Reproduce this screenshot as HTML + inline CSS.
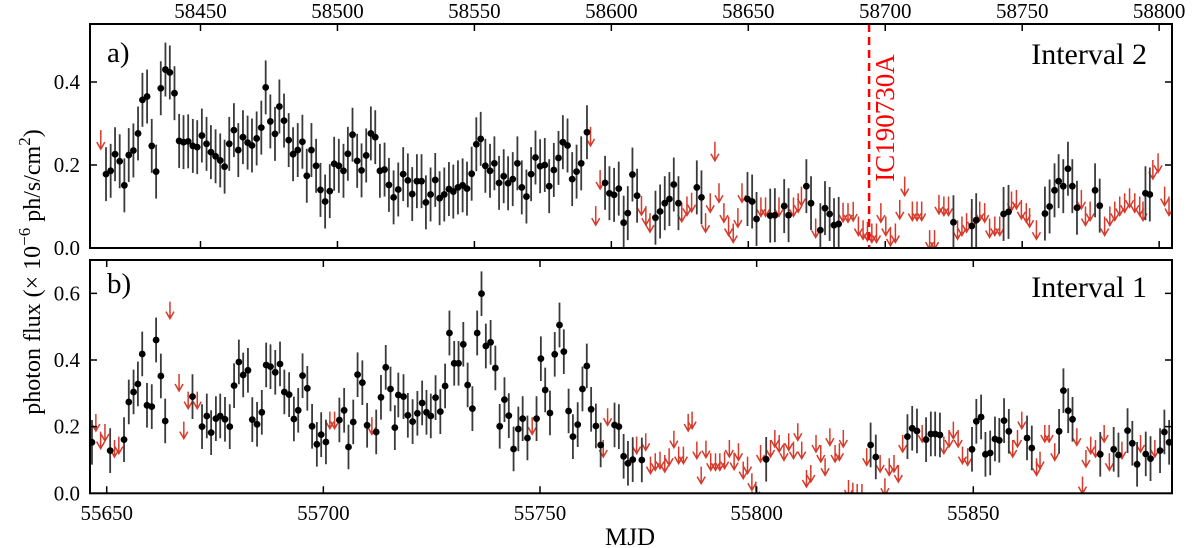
<!DOCTYPE html>
<html><head><meta charset="utf-8"><style>
html,body{margin:0;padding:0;background:#fff;}
svg{display:block;font-family:"Liberation Serif",serif;}
</style></head><body>
<svg id="chart" width="1200" height="548" viewBox="0 0 1200 548">
<defs>
<clipPath id="clipTop"><rect x="90" y="24" width="1082" height="224"/></clipPath>
<clipPath id="clipBot"><rect x="90" y="260" width="1082" height="233.3"/></clipPath>
</defs>
<g id="gTop" clip-path="url(#clipTop)"></g>
<g id="gBot" clip-path="url(#clipBot)"></g>
<g id="axes"></g>
<text x="107" y="62" font-size="29">a)</text>
<text x="1147" y="64" font-size="30" text-anchor="end">Interval 2</text>
<text x="107" y="293" font-size="29">b)</text>
<text x="1147" y="297" font-size="30" text-anchor="end">Interval 1</text>
<text x="630" y="545" font-size="25" text-anchor="middle">MJD</text>
<text transform="translate(40,272) rotate(-90)" font-size="24" text-anchor="middle">photon flux (× 10<tspan dy="-10" font-size="17">−6</tspan><tspan dy="10"> ph/s/cm</tspan><tspan dy="-10" font-size="17">2</tspan><tspan dy="10">)</tspan></text>
</svg>
<script>
// ---- Panel a (Interval 2) data ----
const topDays = [58415.5,58417.2,58418.8,58420.5,58422.2,58423.8,58425.5,58427.2,58428.8,58430.5,58432.2,58433.8,58435.5,58437.2,58438.8,58440.5,58442.2,58443.8,58445.5,58447.2,58448.8,58450.5,58452.2,58453.8,58455.5,58457.2,58458.8,58460.5,58462.2,58463.8,58465.5,58467.2,58468.8,58470.5,58472.2,58473.8,58475.5,58477.2,58478.8,58480.5,58482.2,58483.8,58485.5,58487.2,58488.8,58490.5,58492.2,58493.8,58495.5,58497.2,58498.8,58500.5,58502.2,58503.8,58505.5,58507.2,58508.8,58510.5,58512.2,58513.8,58515.5,58517.2,58518.8,58520.5,58522.2,
58524.0,58525.7,58527.3,58529.0,58530.7,58532.3,58534.0,58535.7,58537.3,58539.0,58540.7,58542.3,58544.0,58545.7,58547.3,58549.0,58550.7,58552.3,58554.0,58555.7,58557.3,58559.0,58560.7,58562.3,58564.0,58565.7,58567.3,58569.0,58570.7,58572.3,58574.0,58575.7,58577.3,58579.0,58580.7,58582.3,58584.0,58585.7,58587.3,58589.0,58591.1,
58597.7,58599.3,58601.0,58602.7,58604.5,58606.0,58607.7,58609.4,58616.1,58617.8,58619.5,58621.2,58622.8,58624.5,58631.2,58632.9,58649.7,58651.4,58653.0,58658.0,58659.7,58663.1,58664.7,
58671.2,58672.9,58676.3,58678.0,58679.7,58681.3,58683.0,58724.9,58731.6,58733.2,58743.2,58745.0,58758.3,58760.0,58761.8,58763.3,58765.0,58766.7,58768.3,58770.0,58776.6,58778.3,58795.0,58796.6];
const topFlux = [0.178,0.186,0.226,0.209,0.151,0.224,0.235,0.276,0.357,0.365,0.246,0.184,0.385,0.430,0.423,0.373,0.258,0.255,0.257,0.246,0.243,0.271,0.251,0.231,0.221,0.211,0.196,0.251,0.284,0.236,0.267,0.254,0.247,0.264,0.290,0.387,0.305,0.275,0.341,0.307,0.260,0.226,0.236,0.256,0.174,0.236,0.198,0.140,0.112,0.137,0.203,0.198,0.186,0.227,0.273,0.210,0.187,0.223,0.276,0.267,0.186,0.189,0.152,0.122,0.141,
0.178,0.163,0.130,0.161,0.161,0.110,0.129,0.164,0.120,0.129,0.142,0.136,0.146,0.151,0.143,0.179,0.250,0.263,0.198,0.186,0.204,0.157,0.173,0.156,0.166,0.204,0.146,0.124,0.178,0.218,0.197,0.200,0.149,0.188,0.217,0.255,0.247,0.166,0.184,0.204,0.279,
0.157,0.132,0.128,0.143,0.061,0.084,0.177,0.126,0.073,0.088,0.108,0.118,0.153,0.108,0.146,0.122,0.118,0.112,0.070,0.078,0.079,0.101,0.079,
0.149,0.108,0.043,0.096,0.082,0.055,0.058,0.062,0.053,0.067,0.082,0.087,0.083,0.100,0.139,0.161,0.149,0.191,0.149,0.097,0.139,0.102,0.132,0.129];
const topErr = 0.065;
const topULDays = [58413.6,58592.4,58594.3,58595.9,58611.0,58612.6,58614.1,58625.7,58627.6,58629.3,58634.4,58636.1,58637.8,58639.3,58641.1,58642.8,58644.5,58646.2,58647.7,58654.6,58656.3,58661.2,58666.5,58668.2,58669.4,58674.6,58684.6,58686.4,58688.3,58690.2,58691.9,58693.5,58695.1,58696.8,58698.4,58700.2,58701.9,58703.7,58705.3,58707.1,58709.9,58711.6,58713.3,58716.2,58718.0,58719.6,58721.4,58723.1,58726.4,58728.0,58729.7,58731.5,58734.5,58736.3,58738.1,58740.0,58741.8,58746.1,58747.9,58749.7,58751.5,58752.7,58755.2,58771.6,58773.1,58774.8,58780.1,58782.0,58783.8,58785.6,58787.4,58789.2,58791.1,58792.9,58794.1,58797.7,58799.6,58802.0,58803.6];
const topULVals = [0.284,0.292,0.101,0.188,0.125,0.101,0.084,0.109,0.124,0.133,0.084,0.132,0.256,0.156,0.108,0.076,0.059,0.096,0.156,0.122,0.122,0.122,0.122,0.132,0.148,0.071,0.109,0.108,0.111,0.076,0.067,0.063,0.059,0.059,0.108,0.076,0.051,0.059,0.116,0.172,0.112,0.112,0.112,0.043,0.043,0.128,0.124,0.124,0.067,0.076,0.084,0.092,0.112,0.108,0.071,0.076,0.076,0.136,0.140,0.116,0.108,0.096,0.067,0.140,0.100,0.112,0.076,0.100,0.112,0.124,0.132,0.144,0.132,0.124,0.112,0.212,0.228,0.148,0.124];
const topTicks = [58450,58500,58550,58600,58650,58700,58750,58800];
const topYTicks = [0.0,0.2,0.4];
const eventDay = 58694.1;
const eventName = "IC190730A";

// ---- Panel b (Interval 1) data ----
const botDays = [55646.6,55650.8,55654.0,55655.1,55656.2,55657.2,55658.2,55659.3,55660.4,55661.4,55662.5,55663.5,55669.8,55672.0,55673.1,55674.1,55675.2,55676.2,55677.3,55678.4,55679.4,55680.5,55681.5,55682.6,55683.6,55684.7,55685.8,55686.8,55687.8,55688.9,55690.0,55691.0,55692.1,55693.2,55694.2,55695.2,55696.3,55697.4,55698.5,55699.5,55700.6,55703.7,55704.8,55705.8,55706.9,55707.9,55709.0,55710.1,55712.2,55713.3,55714.4,55715.5,55716.5,55717.3,
55718.5,55719.5,55720.6,55721.7,55722.8,55723.8,55724.8,55725.9,55727.0,55728.1,55729.1,55730.2,55731.2,55732.3,55733.3,55734.4,55735.5,55736.5,55737.5,55738.6,55739.7,55740.7,55741.8,55742.8,55743.9,55745.0,55746.0,55747.1,55749.2,55750.2,55751.2,55752.3,55753.4,55754.5,55755.5,55756.6,55757.6,55758.7,55759.8,55760.8,55761.8,55762.9,55764.0,55767.2,55768.2,55769.3,55770.3,55771.4,55773.5,55802.2,
55826.3,55827.5,55834.8,55835.9,55837.0,55839.1,55840.2,55841.2,55842.3,55849.7,55850.7,55851.8,55852.8,55853.9,55855.0,55856.0,55857.1,55858.2,55862.4,55863.5,55869.8,55870.8,55871.9,55872.9,55879.3,55882.4,55883.5,55885.6,55886.7,55887.8,55889.8,55890.9,55893.1,55894.1,55895.2];
const botFlux = [0.153,0.128,0.161,0.274,0.304,0.328,0.418,0.264,0.260,0.460,0.352,0.217,0.290,0.200,0.232,0.182,0.224,0.232,0.222,0.200,0.323,0.394,0.355,0.369,0.221,0.207,0.243,0.385,0.380,0.363,0.388,0.304,0.296,0.223,0.249,0.353,0.315,0.201,0.147,0.176,0.154,0.220,0.249,0.139,0.214,0.356,0.332,0.204,0.184,0.288,0.378,0.313,0.197,0.295,
0.290,0.234,0.215,0.240,0.271,0.243,0.232,0.287,0.245,0.322,0.481,0.390,0.390,0.447,0.325,0.254,0.481,0.599,0.442,0.453,0.376,0.201,0.281,0.233,0.133,0.193,0.224,0.166,0.224,0.404,0.310,0.241,0.417,0.505,0.425,0.247,0.170,0.206,0.313,0.382,0.252,0.202,0.145,0.205,0.200,0.111,0.090,0.101,0.100,0.102,
0.145,0.109,0.170,0.195,0.187,0.161,0.178,0.178,0.175,0.132,0.216,0.229,0.117,0.121,0.163,0.159,0.218,0.186,0.166,0.136,0.186,0.308,0.248,0.222,0.117,0.132,0.115,0.188,0.150,0.087,0.118,0.104,0.128,0.184,0.153];
const botErr = 0.067;
const botULDays = [55647.5,55648.6,55649.6,55651.8,55652.8,55664.6,55666.7,55667.8,55668.8,55670.9,55701.5,55702.6,55711.2,55748.2,55764.6,55765.6,55772.3,55774.4,55775.5,55776.6,55777.7,55778.8,55779.8,55780.9,55782.0,55783.1,55784.2,55785.1,55786.2,55787.2,55788.3,55789.4,55790.5,55791.5,55792.6,55793.7,55794.8,55795.8,55796.9,55797.9,55798.9,55799.8,55800.9,55803.2,55804.2,55805.2,55806.3,55807.4,55808.5,55809.5,55810.4,55811.5,55812.5,55813.7,55814.8,55815.8,55816.9,55818.1,55819.1,55820.0,55821.2,55822.2,55823.2,55824.3,55825.4,55828.5,55829.6,55830.6,55831.7,55832.7,55833.7,55838.2,55843.2,55844.4,55845.4,55846.5,55847.5,55848.7,55859.1,55860.2,55861.2,55864.6,55865.4,55866.5,55867.5,55868.8,55873.9,55875.2,55876.0,55877.1,55878.2,55880.2,55881.4,55884.3,55888.6,55891.9];
const botULVals = [0.238,0.185,0.208,0.160,0.170,0.575,0.358,0.215,0.305,0.305,0.245,0.245,0.228,0.228,0.160,0.255,0.170,0.180,0.110,0.120,0.125,0.115,0.135,0.188,0.140,0.140,0.238,0.245,0.155,0.080,0.158,0.120,0.120,0.120,0.125,0.160,0.122,0.150,0.095,0.110,0.060,0.035,0.145,0.160,0.190,0.175,0.150,0.180,0.155,0.210,0.155,0.070,0.085,0.175,0.145,0.105,0.195,0.145,0.150,0.190,0.040,0.032,0.028,0.028,0.135,0.115,0.045,0.105,0.115,0.085,0.175,0.205,0.170,0.190,0.215,0.190,0.140,0.135,0.160,0.190,0.245,0.105,0.125,0.205,0.205,0.150,0.195,0.050,0.130,0.170,0.160,0.205,0.120,0.155,0.175,0.160];
const botTicks = [55650,55700,55750,55800,55850];
const botYTicks = [0.0,0.2,0.4,0.6];

// ---- axis functions ----
const L = 90, R = 1172;
const topY0 = 248, topY1 = 24, botY0 = 493.3, botY1 = 260;
const xTop = d => 200.5 + (d - 58450) * 2.739;
const yTop = v => 248 - v * 415;
const xBot = d => 106.7 + (d - 55650) * 4.333;
const yBot = v => 493.3 - v * 333.3;

const NS = "http://www.w3.org/2000/svg";
function mk(tag, attrs, parent) {
  const e = document.createElementNS(NS, tag);
  for (const k in attrs) e.setAttribute(k, attrs[k]);
  parent.appendChild(e);
  return e;
}
const gTop = document.getElementById('gTop');
const gBot = document.getElementById('gBot');
const axes = document.getElementById('axes');

function drawPoints(g, days, flux, err, xf, yf, name) {
  for (let i = 0; i < days.length; i++) {
    const x = xf(days[i]);
    const eb = mk('line', {x1: x, x2: x, y1: yf(flux[i] + err), y2: yf(flux[i] - err), stroke: '#3a3a3a', 'stroke-width': 1.8}, g);
    
    
    const c = mk('circle', {cx: x, cy: yf(flux[i]), r: 3.4, fill: '#000'}, g);
    
    
  }
}
function drawUL(g, days, vals, xf, yf, len, name) {
  for (let i = 0; i < days.length; i++) {
    const x = xf(days[i]), y = yf(vals[i]);
    const p = mk('path', {d: `M${x},${y} V${y + len} M${x - 4},${y + len - 7} L${x},${y + len} L${x + 4},${y + len - 7}`, stroke: '#d63a2a', 'stroke-width': 1.5, fill: 'none'}, g);
    
    
  }
}
drawUL(gTop, topULDays, topULVals, xTop, yTop, 19, 'interval-2');
drawPoints(gTop, topDays, topFlux, topErr, xTop, yTop, 'interval-2');
drawUL(gBot, botULDays, botULVals, xBot, yBot, 17, 'interval-1');
drawPoints(gBot, botDays, botFlux, botErr, xBot, yBot, 'interval-1');

// event line
const ex = xTop(eventDay);
const evl = mk('line', {x1: ex, x2: ex, y1: 24, y2: 248, stroke: '#ff0000', 'stroke-width': 2.5, 'stroke-dasharray': '8,5'}, axes);


const evt = mk('text', {transform: `translate(${ex + 25},${118}) rotate(-90)`, 'font-size': 27, fill: '#ff0000', 'text-anchor': 'middle'}, axes);
evt.textContent = eventName;



// frames
const f1 = mk('rect', {x: L, y: topY1, width: R - L, height: topY0 - topY1, fill: 'none', stroke: '#000', 'stroke-width': 2}, axes);


const f2 = mk('rect', {x: L, y: botY1, width: R - L, height: botY0 - botY1, fill: 'none', stroke: '#000', 'stroke-width': 2}, axes);



// x ticks
topTicks.forEach(t => {
  const x = xTop(t);
  mk('path', {d: `M${x},${topY1} v7 M${x},${topY0} v-7`, stroke: '#000', 'stroke-width': 1.5}, axes);
  const tx = mk('text', {x: x, y: 18, 'font-size': 21, 'text-anchor': 'middle'}, axes);
  tx.textContent = t;
  
  
});
botTicks.forEach(t => {
  const x = xBot(t);
  mk('path', {d: `M${x},${botY1} v7 M${x},${botY0} v-7`, stroke: '#000', 'stroke-width': 1.5}, axes);
  const tx = mk('text', {x: x, y: 520, 'font-size': 21, 'text-anchor': 'middle'}, axes);
  tx.textContent = t;
  
  
});
// y ticks
topYTicks.forEach(v => {
  const y = yTop(v);
  mk('path', {d: `M${L},${y} h7 M${R},${y} h-7`, stroke: '#000', 'stroke-width': 1.5}, axes);
  const tx = mk('text', {x: 80, y: y + 7, 'font-size': 21, 'text-anchor': 'end'}, axes);
  tx.textContent = v.toFixed(1);
  
  
});
botYTicks.forEach(v => {
  const y = yBot(v);
  mk('path', {d: `M${L},${y} h7 M${R},${y} h-7`, stroke: '#000', 'stroke-width': 1.5}, axes);
  const tx = mk('text', {x: 80, y: y + 7, 'font-size': 21, 'text-anchor': 'end'}, axes);
  tx.textContent = v.toFixed(1);
  
  
});
</script>
</body></html>
